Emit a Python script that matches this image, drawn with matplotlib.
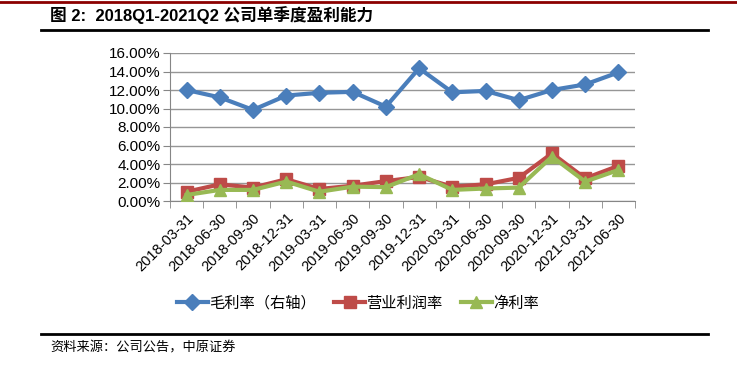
import matplotlib
matplotlib.use("Agg")
import matplotlib.pyplot as plt
from matplotlib.lines import Line2D
from matplotlib.ticker import FuncFormatter, FixedLocator

plt.rcParams['font.family'] = ['Liberation Sans', 'Noto Sans CJK SC', 'DejaVu Sans']

# quarters
dates = ['2018-03-31', '2018-06-30', '2018-09-30', '2018-12-31',
         '2019-03-31', '2019-06-30', '2019-09-30', '2019-12-31',
         '2020-03-31', '2020-06-30', '2020-09-30', '2020-12-31',
         '2021-03-31', '2021-06-30']

# margins in %
gross_margin = [12.0, 11.2, 9.85, 11.4, 11.7, 11.8, 10.2, 14.35,
                11.75, 11.9, 10.9, 12.0, 12.6, 13.9]
operating_margin = [1.0, 1.8, 1.45, 2.35, 1.3, 1.65, 2.15, 2.6,
                    1.55, 1.8, 2.5, 5.15, 2.45, 3.8]
net_margin = [0.65, 1.2, 1.2, 2.1, 1.0, 1.55, 1.5, 2.9,
              1.2, 1.35, 1.45, 4.8, 2.1, 3.35]

labels = ['毛利率（右轴）', '营业利润率', '净利率']
colors = ['#4A7EBB', '#BE4B48', '#98B954']
markers = ['D', 's', '^']

W, H = 737, 374
fig = plt.figure(figsize=(W / 100, H / 100), dpi=100)

ax = fig.add_axes([170 / W, 1 - 201 / H, (635 - 170) / W, (201 - 53) / H])
x = list(range(len(dates)))
series = [gross_margin, operating_margin, net_margin]
for vals, c, m in zip(series, colors, markers):
    ax.plot(x, vals, color=c, marker=m, lw=3, markersize=8.5, zorder=3)

ax.set_xlim(-0.5, len(dates) - 0.5)
ax.set_ylim(0, 16)
ax.set_yticks(range(0, 17, 2))
ax.yaxis.set_major_formatter(FuncFormatter(lambda v, p: f'{v:.2f}%'))
ax.grid(axis='y', color='#969696', lw=1)
ax.set_axisbelow(True)

ax.set_xticks(x)
ax.set_xticklabels(dates, rotation=45, ha='right', rotation_mode='anchor')
ax.xaxis.set_minor_locator(FixedLocator([i - 0.5 for i in range(len(dates) + 1)]))
ax.tick_params(axis='x', which='major', length=0, pad=7, labelsize=10.5)
ax.tick_params(axis='x', which='minor', length=5, color='#868686', direction='out')
ax.tick_params(axis='y', length=5, color='#868686', labelsize=11, pad=2)

for s in ['top', 'right']:
    ax.spines[s].set_visible(False)
for s in ['left', 'bottom']:
    ax.spines[s].set_color('#868686')

handles = [Line2D([], [], color=c, marker=m, lw=3, markersize=8.5)
           for c, m in zip(colors, markers)]
fig.legend(handles, labels, loc='center', bbox_to_anchor=(358 / W, 1 - 303 / H),
           ncol=3, frameon=False, handlelength=2.0, columnspacing=1.2,
           handletextpad=0.1, prop={'family': ['Noto Sans CJK SC'], 'size': 11})

# header and footer
fig.add_artist(Line2D([0, 1], [1 - 1.5 / H, 1 - 1.5 / H], color='#8B0000', lw=2))
fig.text(50 / W, 1 - 15 / H, '图 2:  2018Q1-2021Q2 公司单季度盈利能力', fontsize=12,
         fontweight='bold', va='center', ha='left')
fig.add_artist(Line2D([41 / W, 708 / W], [1 - 29.5 / H, 1 - 29.5 / H], color='black', lw=2))
fig.add_artist(Line2D([41 / W, 708 / W], [1 - 333.5 / H, 1 - 333.5 / H], color='black', lw=2))
fig.text(50 / W, 1 - 348 / H, '资料来源：公司公告，中原证券', fontsize=9.5,
         family=['Noto Sans CJK SC'], va='center', ha='left')

fig.savefig('out.png', dpi=100)
